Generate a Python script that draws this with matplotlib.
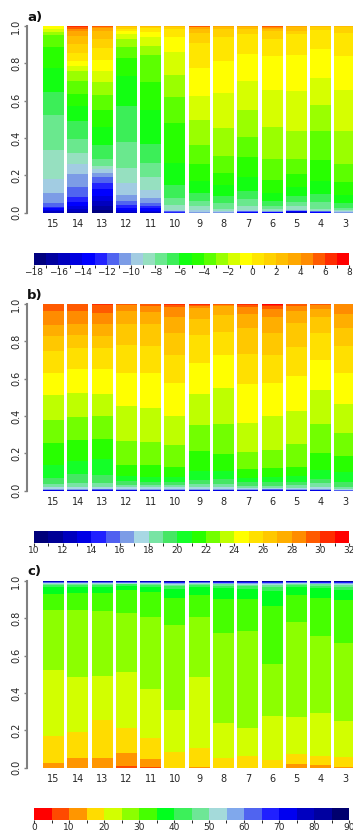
import numpy as np
import matplotlib
matplotlib.use("Agg")
import matplotlib.pyplot as plt
from matplotlib.colors import ListedColormap, BoundaryNorm
import matplotlib.colorbar as mcolorbar

plt.rcParams['font.family'] = ['DejaVu Sans']

# ---------------- data ----------------
bar_labels = ['15', '14', '13', '12', '11', '10', '9', '8', '7', '6', '5', '4', '3']

# panel a: bins of width 1 from -18 to 8; cumulative fraction at top of each bin
a_edges = np.arange(-18, 9, 1)
a_cum = [
    [0, 0, .007, .014, .023, .032, .052, .104, .179, .336, .523, .648, .773, .889, .952, .970, .982, 1, 1, 1, 1, 1, 1, 1, 1, 1],
    [0, .005, .02, .035, .055, .085, .135, .205, .262, .318, .393, .491, .571, .634, .705, .759, .786, .813, .857, .904, .948, .973, .985, .995, 1, 1],
    [.015, .035, .06, .09, .125, .16, .19, .215, .235, .25, .29, .36, .46, .55, .63, .70, .76, .82, .88, .93, .975, .99, .997, 1, 1, 1],
    [0, 0, .005, .012, .025, .04, .06, .095, .16, .24, .38, .57, .73, .83, .89, .93, .955, .975, .985, .993, 1, 1, 1, 1, 1, 1],
    [0, 0, .005, .011, .023, .035, .05, .077, .121, .193, .264, .368, .55, .702, .845, .893, .943, .97, .988, .995, 1, 1, 1, 1, 1, 1],
    [0, 0, 0, 0, 0, .005, .008, .011, .015, .041, .077, .148, .264, .479, .621, .737, .862, .943, .982, .995, 1, 1, 1, 1, 1, 1],
    [0, 0, 0, 0, 0, 0, 0, .005, .014, .036, .0625, .104, .17, .259, .361, .496, .625, .777, .911, .964, .982, .992, .997, 1, 1, 1],
    [0, 0, 0, 0, 0, 0, 0, .003, .007, .021, .05, .089, .146, .211, .304, .452, .643, .8125, .941, .982, .995, 1, 1, 1, 1, 1],
    [0, 0, 0, 0, .003, .006, .008, .01, .0125, .036, .071, .116, .191, .298, .405, .548, .705, .848, .955, .982, .995, 1, 1, 1, 1, 1],
    [0, 0, 0, 0, .003, .005, .006, .007, .009, .021, .036, .0625, .104, .173, .286, .459, .655, .839, .929, .973, .985, .991, .996, 1, 1, 1],
    [0, 0, .002, .004, .007, .009, .011, .012, .014, .036, .057, .089, .1375, .209, .286, .4375, .652, .843, .955, .975, .993, 1, 1, 1, 1, 1],
    [0, 0, 0, 0, .003, .006, .008, .01, .011, .021, .057, .098, .17, .28, .4375, .575, .723, .875, .979, .995, 1, 1, 1, 1, 1, 1],
    [0, 0, 0, 0, 0, 0, 0, .004, .008, .0125, .023, .05, .093, .164, .259, .4375, .655, .839, .964, .995, 1, 1, 1, 1, 1, 1],
]

# panel b: bins of width 1 from 10 to 32
b_edges = np.arange(10, 33, 1)
b_cum = [
    [0, 0, 0, .002, .004, .006, .007, .018, .036, .07, .1375, .257, .379, .5125, .632, .748, .829, .8875, .964, 1, 1, 1],
    [0, 0, 0, .002, .004, .006, .007, .021, .043, .0875, .159, .271, .396, .521, .652, .766, .834, .893, .964, 1, 1, 1],
    [0, 0, 0, .002, .005, .007, .009, .021, .043, .084, .17, .277, .4, .518, .652, .766, .829, .893, .954, .993, 1, 1],
    [0, 0, 0, .002, .004, .005, .007, .018, .030, .054, .079, .1375, .266, .4536, .632, .78, .893, .9625, .993, .998, 1, 1],
    [0, 0, 0, .002, .004, .005, .007, .018, .030, .048, .075, .1375, .2625, .441, .629, .775, .891, .957, .989, 1, 1, 1],
    [0, 0, 0, .002, .004, .005, .007, .018, .030, .048, .075, .129, .245, .4, .579, .727, .846, .932, .986, .996, 1, 1],
    [0, 0, 0, .002, .004, .005, .007, .021, .036, .057, .105, .2125, .352, .518, .686, .834, .92, .980, .989, .996, 1, 1],
    [0, 0, 0, .002, .004, .005, .007, .018, .036, .0625, .105, .196, .357, .552, .727, .852, .941, .989, .997, 1, 1, 1],
    [0, 0, 0, .002, .004, .006, .009, .0125, .027, .048, .070, .116, .209, .364, .571, .732, .873, .946, .986, .996, 1, 1],
    [0, 0, 0, .002, .004, .007, .01, .0125, .027, .048, .075, .123, .218, .4, .579, .727, .846, .932, .973, .989, .997, 1],
    [0, 0, 0, .002, .004, .006, .008, .0125, .030, .048, .079, .129, .25, .427, .614, .771, .9, .9625, .99, 1, 1, 1],
    [0, 0, 0, .002, .004, .005, .007, .021, .039, .0625, .111, .204, .357, .539, .7, .843, .932, .973, .993, 1, 1, 1],
    [0, 0, 0, 0, 0, .002, .005, .009, .021, .048, .102, .1875, .311, .464, .632, .775, .873, .946, 1, 1, 1, 1],
]

# panel c: bins of width 5 from 0 to 90
c_edges = np.arange(0, 95, 5)
c_cum = [
    [0, 0, .023, .170, .523, .845, .929, .966, .979, .984, .9875, .99, .992, .994, .996, .998, .999, 1],
    [0, 0, .05, .193, .4875, .845, .9375, .966, .979, .984, .9875, .99, .992, .994, .996, .998, .999, 1],
    [0, 0, .054, .255, .491, .839, .9375, .966, .979, .984, .9875, .99, .992, .994, .996, .998, .999, 1],
    [0, .009, .080, .214, .514, .830, .952, .975, .982, .986, .989, .991, .993, .995, .997, .998, .999, 1],
    [0, .005, .046, .161, .421, .809, .943, .97, .98, .985, .988, .99, .992, .994, .996, .998, .999, 1],
    [0, 0, 0, .086, .309, .764, .907, .955, .972, .98, .985, .988, .99, .993, .995, .997, .999, 1],
    [0, 0, .005, .107, .4875, .809, .925, .966, .979, .984, .9875, .99, .992, .994, .996, .998, .999, 1],
    [0, 0, 0, .054, .241, .723, .904, .961, .975, .982, .986, .989, .991, .993, .995, .997, .999, 1],
    [0, 0, 0, .0625, .214, .732, .904, .957, .973, .98, .985, .988, .99, .993, .995, .997, .999, 1],
    [0, 0, 0, .041, .277, .555, .866, .946, .97, .979, .984, .988, .99, .993, .995, .997, .999, 1],
    [0, 0, .02, .073, .273, .782, .925, .966, .979, .984, .9875, .99, .992, .994, .996, .998, .999, 1],
    [0, 0, .014, .0625, .295, .705, .911, .961, .975, .982, .986, .989, .991, .993, .995, .997, .999, 1],
    [0, 0, .005, .059, .252, .670, .898, .952, .97, .978, .983, .987, .99, .993, .995, .997, .999, 1],
]

# ---------------- styles ----------------
a_colors = ['#00007F', '#00009F', '#0000BF', '#0000DF', '#0000FF', '#2222FF', '#5064F0', '#7C9CE6',
            '#A2CCE2', '#96E0C0', '#6AE88E', '#3CEE58', '#12FF12', '#28FF00', '#5CFF00', '#9AFF00',
            '#D6FF00', '#FFFF00', '#FFE600', '#FFD200', '#FFBE00', '#FFA800', '#FF8C00', '#FF5A00',
            '#FF2C00', '#FF0000']
b_colors = ['#00007A', '#000096', '#0000BE', '#0000E6', '#2020FF', '#5060F0', '#7C9CE6', '#A8D8E4',
            '#78E4A4', '#46E664', '#14FF28', '#28FF00', '#72FF00', '#BEFF00', '#FFFF00', '#FFE000',
            '#FFC800', '#FFAE00', '#FF8C00', '#FF5A00', '#FF2C00', '#FF0000']
c_colors = ['#FF0000', '#FF4A00', '#FF9600', '#FFDC00', '#D2FF00', '#8CFF00', '#46FF00', '#00FF1E',
            '#3CF05A', '#6EE696', '#A4DADA', '#80A8EC', '#5064F0', '#2020FF', '#0000F0', '#0000C0',
            '#0000A0', '#00006E']

W, H = 353, 831
fig = plt.figure(figsize=(W / 100, H / 100), dpi=100)

TXT = '#262626'
AX_GRAY = '#808080'
x = np.arange(len(bar_labels))
scale = (345 - 53.5) / 12.0
xmin = -(53.5 - 27) / scale
xmax = xmin + (W - 27) / scale


def fig_rect(left, top, right, bottom):
    return [left / W, 1 - bottom / H, (right - left) / W, (bottom - top) / H]


def panel(top, cum, colors, label, cb_top, edges, cb_ticks):
    ax = fig.add_axes(fig_rect(27, top, W, top + 186.7))
    cum = np.asarray(cum, dtype=float)
    prev = np.hstack([np.zeros((cum.shape[0], 1)), cum[:, :-1]])
    heights = cum - prev
    for k in range(cum.shape[1]):
        ax.bar(x, heights[:, k], bottom=prev[:, k], width=0.865, color=colors[k],
               linewidth=0, antialiased=False)
    ax.set_xlim(xmin, xmax)
    ax.set_ylim(0, 1)
    for s in ['top', 'right', 'bottom']:
        ax.spines[s].set_visible(False)
    ax.spines['left'].set_color(AX_GRAY)
    ax.spines['left'].set_linewidth(1.5)
    ax.spines['left'].set_bounds(0, 1)
    ax.set_yticks([0, 0.2, 0.4, 0.6, 0.8, 1.0])
    ax.set_yticklabels(['0.0', '0.2', '0.4', '0.6', '0.8', '1.0'], rotation=90, va='center')
    ax.tick_params(axis='y', length=2.5, width=1.0, color=AX_GRAY, labelsize=7,
                   labelcolor=TXT, pad=1.5)
    ax.set_xticks(x)
    ax.set_xticklabels(bar_labels)
    ax.tick_params(axis='x', length=0, labelsize=7, labelcolor=TXT, pad=4.5)
    fig.text(27 / W, 1 - (top - 9) / H, label, fontsize=9.5, fontweight='bold',
             ha='left', va='center', color='#111111')

    cax = fig.add_axes(fig_rect(34, cb_top, 349, cb_top + 11.5))
    cmap = ListedColormap(colors)
    norm = BoundaryNorm(edges, cmap.N)
    cb = mcolorbar.ColorbarBase(cax, cmap=cmap, norm=norm, orientation='horizontal',
                                ticks=cb_ticks, drawedges=False)
    cb.outline.set_visible(False)
    cax.tick_params(length=1.8, width=0.8, color='#333333', labelsize=6.5,
                    labelcolor=TXT, pad=0.6)
    cax.set_xticklabels([f'{t:g}'.replace('-', '\u2212') for t in cb_ticks])


panel(26, a_cum, a_colors, 'a)', 253.3, a_edges, list(range(-18, 9, 2)))
panel(304, b_cum, b_colors, 'b)', 531, b_edges, list(range(10, 33, 2)))
panel(581, c_cum, c_colors, 'c)', 808, c_edges, list(range(0, 91, 10)))

fig.savefig('out.png', dpi=100)
